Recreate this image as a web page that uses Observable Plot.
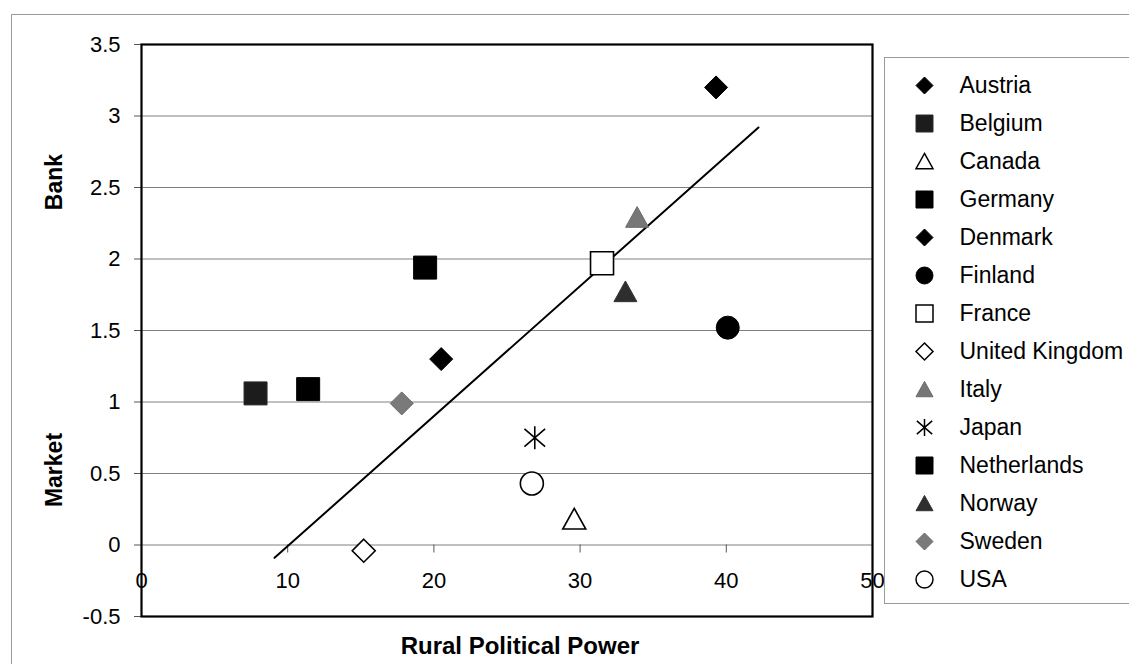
<!DOCTYPE html>
<html>
<head>
<meta charset="utf-8">
<script src="https://cdn.jsdelivr.net/npm/d3@7"></script>
<script src="https://cdn.jsdelivr.net/npm/@observablehq/plot@0.6"></script>
<style>
  html, body { margin: 0; padding: 0; background: #fff; }
  #wrap { position: relative; width: 1129px; height: 664px; overflow: hidden;
          font-family: "Liberation Sans", Arial, sans-serif; color: #000; }
  #outer { position: absolute; left: 11px; top: 14px; width: 1200px; height: 700px;
           border-left: 1px solid #9a9a9a; border-top: 1px solid #9a9a9a; }
  #chart { position: absolute; left: 0; top: 0; }
  #legend { position: absolute; left: 884px; top: 57px; width: 260px; height: 545px;
            border: 1px solid #9a9a9a; border-right: none; background: #fff; }
  #legend svg { position: absolute; left: 0; top: 0; }
  .ytitle { position: absolute; font-weight: bold; font-size: 23px; white-space: nowrap;
            transform: translate(-50%, -50%) rotate(-90deg); }
  .xtitle { position: absolute; font-weight: bold; font-size: 24px; white-space: nowrap;
            transform: translate(-50%, -50%); }
</style>
</head>
<body>
<div id="wrap">
  <div id="outer"></div>
  <div id="chart"></div>
  <div id="legend"></div>
  <div class="ytitle" style="left:54px; top:182px;">Bank</div>
  <div class="ytitle" style="left:54px; top:470px;">Market</div>
  <div class="xtitle" style="left:520px; top:646px;">Rural Political Power</div>
</div>
<script>
// Countries, rural political power (x) and bank/market orientation (y)
const countries = ["Austria", "Belgium", "Canada", "Germany", "Denmark", "Finland", "France",
                   "United Kingdom", "Italy", "Japan", "Netherlands", "Norway", "Sweden", "USA"];
const ruralPower = [39.3, 7.8, 29.6, 19.4, 20.5, 40.1, 31.5, 15.2, 33.9, 26.9, 11.4, 33.1, 17.8, 26.7];
const bankMarket = [3.20, 1.06, 0.18, 1.94, 1.30, 1.52, 1.97, -0.04, 2.29, 0.75, 1.09, 1.77, 0.99, 0.43];

// Fitted trend line endpoints
const trendX = [9.1, 42.2];
const trendY = [-0.09, 2.92];

// Axis ticks
const xTicks = [0, 10, 20, 30, 40, 50];
const yTicks = [-0.5, 0, 0.5, 1, 1.5, 2, 2.5, 3, 3.5];
const yGrid = [0, 0.5, 1, 1.5, 2, 2.5, 3];

// Marker shapes, drawn with r as the half-width in pixels
const rad = s => Math.sqrt(s / Math.PI);
const shapes = {
  diamond: { draw(c, s) { const r = rad(s); c.moveTo(0, -r); c.lineTo(r, 0); c.lineTo(0, r); c.lineTo(-r, 0); c.closePath(); } },
  square: { draw(c, s) { const r = rad(s); c.rect(-r, -r, 2 * r, 2 * r); } },
  triangle: { draw(c, s) { const r = rad(s); c.moveTo(0, -0.95 * r); c.lineTo(r, 0.85 * r); c.lineTo(-r, 0.85 * r); c.closePath(); } },
  circle: { draw(c, s) { const r = rad(s); c.moveTo(r, 0); c.arc(0, 0, r, 0, 2 * Math.PI); } },
  star: { draw(c, s) { const r = rad(s);
    c.moveTo(0, -r); c.lineTo(0, r);
    c.moveTo(-0.9 * r, -0.78 * r); c.lineTo(0.9 * r, 0.78 * r);
    c.moveTo(0.9 * r, -0.78 * r); c.lineTo(-0.9 * r, 0.78 * r); } }
};

// Per-country marker style
const markerStyle = {
  "Austria":        { shape: "diamond",  fill: "#000",    stroke: "#000" },
  "Belgium":        { shape: "square",   fill: "#1c1c1c", stroke: "#2a2a2a" },
  "Canada":         { shape: "triangle", fill: "#fff",    stroke: "#000" },
  "Germany":        { shape: "square",   fill: "#000",    stroke: "#000" },
  "Denmark":        { shape: "diamond",  fill: "#000",    stroke: "#000" },
  "Finland":        { shape: "circle",   fill: "#000",    stroke: "#000" },
  "France":         { shape: "square",   fill: "#fff",    stroke: "#000" },
  "United Kingdom": { shape: "diamond",  fill: "#fff",    stroke: "#000" },
  "Italy":          { shape: "triangle", fill: "#777",    stroke: "#6a6a6a" },
  "Japan":          { shape: "star",     fill: "none",    stroke: "#000" },
  "Netherlands":    { shape: "square",   fill: "#000",    stroke: "#000" },
  "Norway":         { shape: "triangle", fill: "#2e2e2e", stroke: "#333" },
  "Sweden":         { shape: "diamond",  fill: "#7a7a7a", stroke: "#6a6a6a" },
  "USA":            { shape: "circle",   fill: "#fff",    stroke: "#000" }
};
const openShape = s => s.fill === "#fff" || s.fill === "none";

const rows = countries.map((country, i) => ({ country, x: ruralPower[i], y: bankMarket[i] }));
const trend = trendX.map((x, i) => ({ x, y: trendY[i] }));

const W = 1129, H = 664;
const mL = 141, mR = W - 872, mT = 44, mB = H - 616;
const yDomain = [-0.5, 3.5];
// the x axis crosses at y = 0
const axisShift = (H - mT - mB) * (0 - yDomain[0]) / (yDomain[1] - yDomain[0]);
const fmt = d => String(d);

const chart = Plot.plot({
  width: W, height: H,
  marginLeft: mL, marginRight: mR, marginTop: mT, marginBottom: mB,
  style: { fontFamily: '"Liberation Sans", Arial, sans-serif', background: "transparent", color: "#000", overflow: "visible" },
  x: { domain: [0, 50] },
  y: { domain: yDomain },
  marks: [
    Plot.ruleY(yGrid, { stroke: "#808080", strokeWidth: 1 }),
    Plot.axisY(yTicks, { anchor: "left", tickSize: 7, tickPadding: 14, fontSize: 22, tickFormat: fmt, label: null, stroke: "#555" }),
    Plot.axisX(xTicks, { anchor: "bottom", dy: -axisShift, tickSize: 8, tickPadding: 19, fontSize: 22, tickFormat: fmt, label: null, stroke: "#555" }),
    Plot.line(trend, { x: "x", y: "y", stroke: "#000", strokeWidth: 2 }),
    ...rows.map(d => {
      const s = markerStyle[d.country];
      return Plot.dot([d], {
        x: "x", y: "y", r: 11.5, symbol: shapes[s.shape],
        fill: s.fill, stroke: s.stroke, strokeWidth: openShape(s) ? 1.6 : 1
      });
    }),
    Plot.frame({ stroke: "#000", strokeWidth: 2.2 })
  ]
});
document.getElementById("chart").append(chart);

// Legend: one row per country
const legend = Plot.plot({
  width: 260, height: 545,
  marginLeft: 0, marginRight: 0, marginTop: 22, marginBottom: 20,
  style: { fontFamily: '"Liberation Sans", Arial, sans-serif', background: "transparent", color: "#000" },
  x: { axis: null },
  y: { type: "point", domain: countries, padding: 0, axis: null },
  marks: [
    ...countries.map(c => {
      const s = markerStyle[c];
      return Plot.dot([c], {
        y: d => d, frameAnchor: "left", dx: 39, r: 8.5, symbol: shapes[s.shape],
        fill: s.fill, stroke: s.stroke, strokeWidth: openShape(s) ? 1.5 : 1
      });
    }),
    Plot.text(countries, { y: d => d, text: d => d, frameAnchor: "left", dx: 74, textAnchor: "start", fontSize: 23, fill: "#000" })
  ]
});
document.getElementById("legend").append(legend);
</script>
</body>
</html>
